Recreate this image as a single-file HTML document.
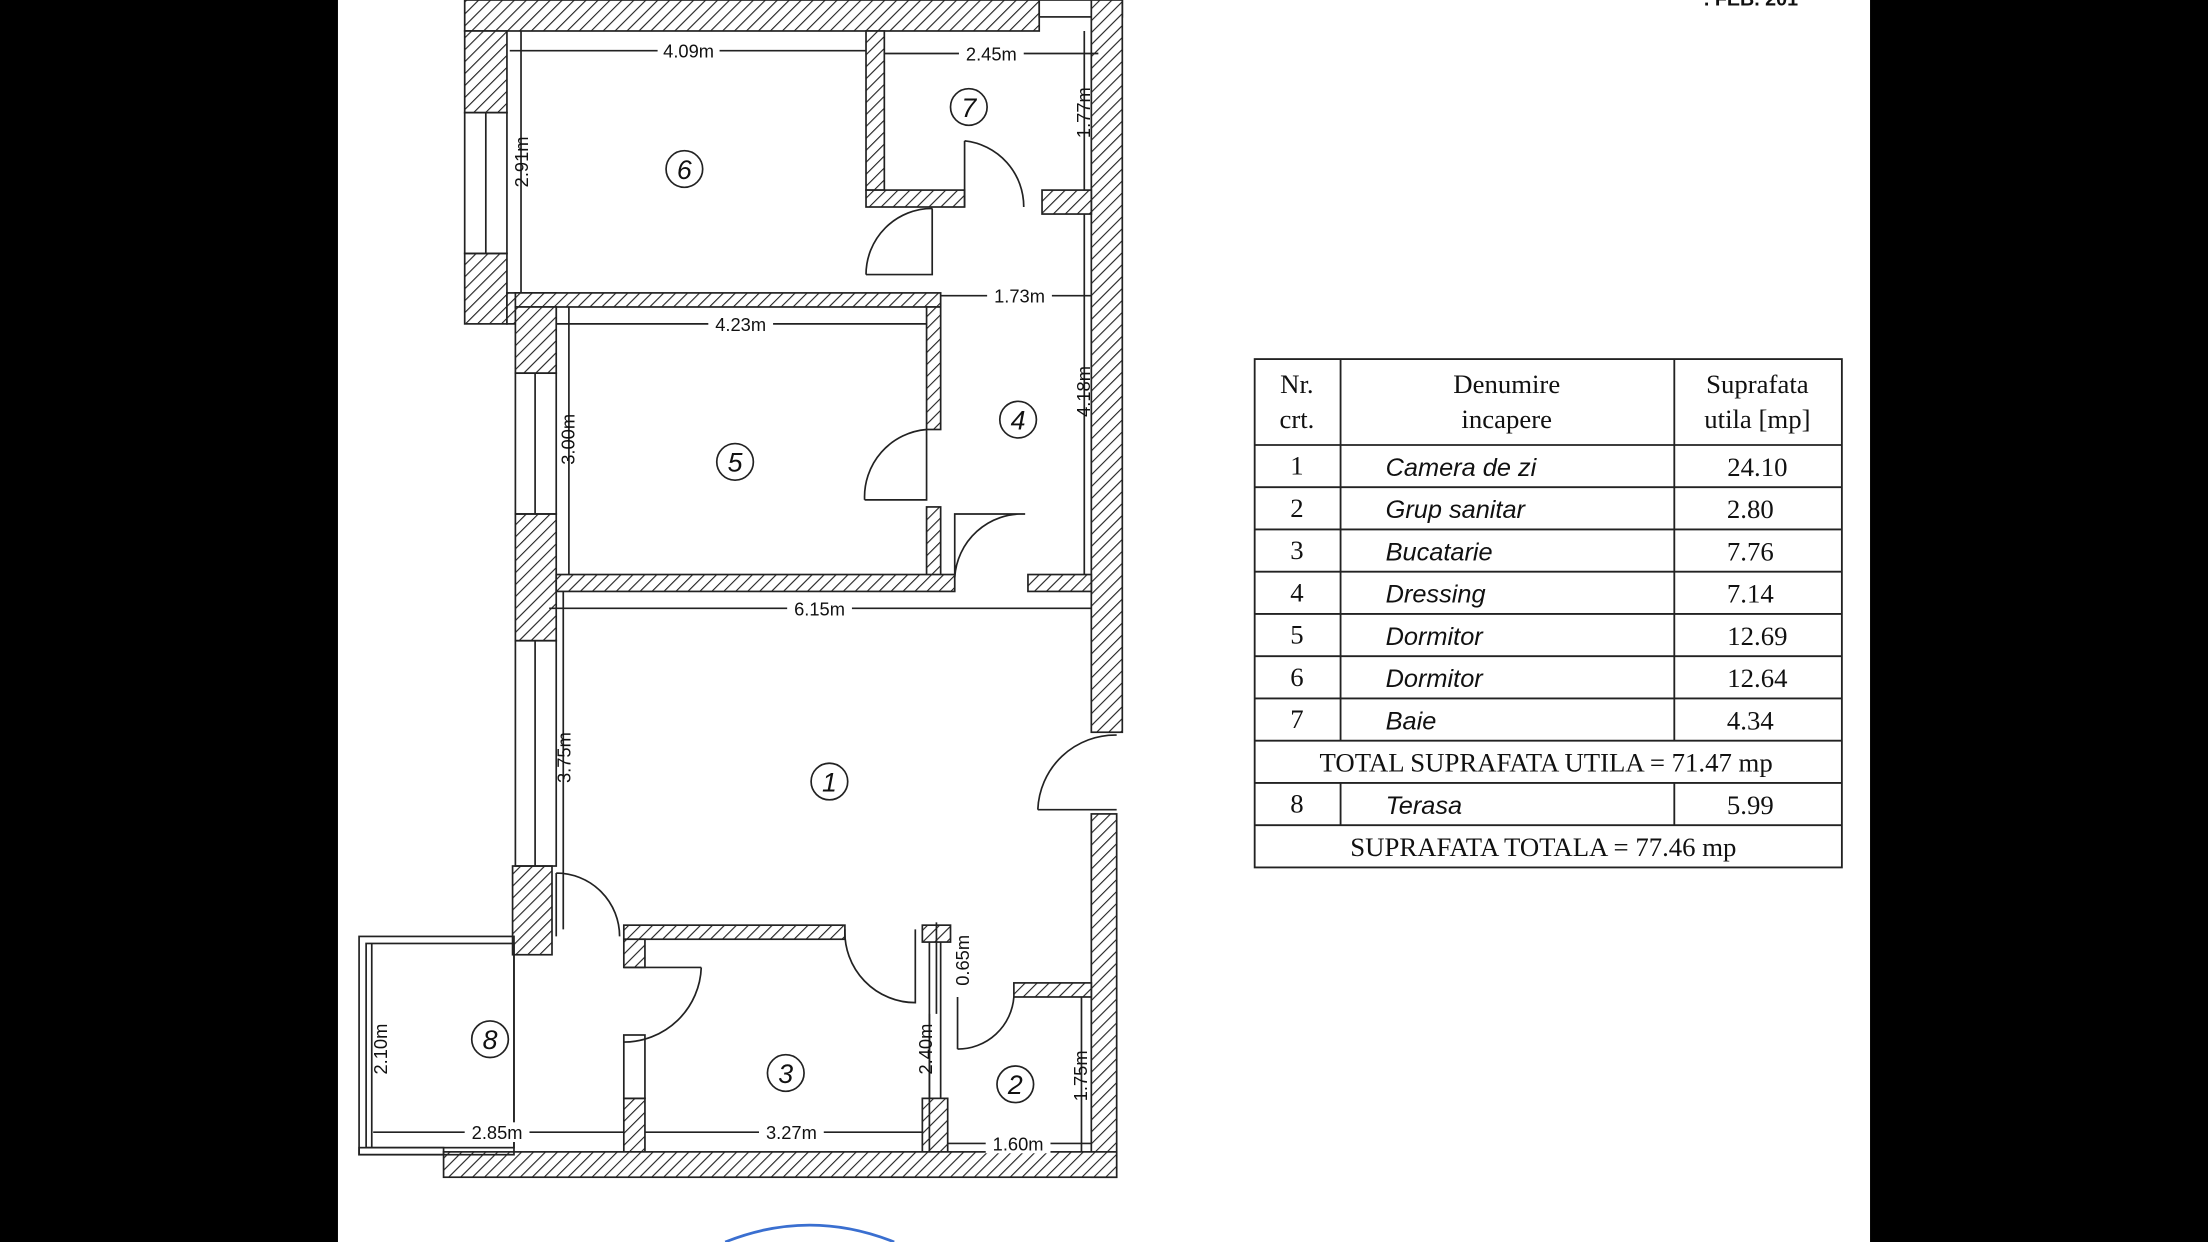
<!DOCTYPE html>
<html><head><meta charset="utf-8"><style>
html,body{margin:0;padding:0;background:#000;}
svg{display:block;}
</style></head><body>
<svg width="2208" height="1242" viewBox="0 0 1568 882" xmlns="http://www.w3.org/2000/svg">
<defs>
<pattern id="h" width="6" height="6" patternUnits="userSpaceOnUse" patternTransform="rotate(45)">
<rect width="6" height="6" fill="#fff"/><line x1="0" y1="0" x2="0" y2="6" stroke="#222" stroke-width="1.6"/>
</pattern>
</defs>
<rect x="0" y="0" width="1568" height="882" fill="#000"/>
<rect x="240" y="0" width="1088" height="882" fill="#fff"/>
<text x="1210" y="4" font-family="Liberation Sans, sans-serif" font-size="14" font-weight="bold" fill="#111">. FEB. 201</text>
<g stroke="#222" stroke-width="1.2" fill="url(#h)">
<rect x="330" y="0" width="408" height="22"/>
<rect x="738" y="0" width="59" height="12" fill="#fff"/>
<rect x="775" y="0" width="22" height="520"/>
<rect x="775" y="578" width="18" height="258"/>
<rect x="330" y="22" width="30" height="58"/>
<rect x="330" y="180" width="30" height="50"/>
<rect x="360" y="208" width="35" height="22"/>
<rect x="615" y="22" width="13" height="113"/>
<rect x="615" y="135" width="70" height="12"/>
<rect x="740" y="135" width="35" height="17"/>
<rect x="366" y="208" width="302" height="10"/>
<rect x="366" y="218" width="29" height="47"/>
<rect x="366" y="365" width="29" height="90"/>
<rect x="658" y="218" width="10" height="87"/>
<rect x="658" y="360" width="10" height="50"/>
<rect x="395" y="408" width="283" height="12"/>
<rect x="730" y="408" width="45" height="12"/>
<rect x="364" y="615" width="28" height="63"/>
<rect x="443" y="657" width="157" height="10"/>
<rect x="443" y="667" width="15" height="20"/>
<rect x="443" y="780" width="15" height="38"/>
<rect x="655" y="657" width="20" height="12"/>
<rect x="655" y="780" width="18" height="38"/>
<rect x="720" y="698" width="55" height="10"/>
<rect x="315" y="818" width="478" height="18"/>
</g>
<g stroke="#222" stroke-width="1.2" fill="none">
<rect x="330" y="80" width="30" height="100"/><line x1="345" y1="80" x2="345" y2="180"/>
<rect x="366" y="265" width="29" height="100"/><line x1="380" y1="265" x2="380" y2="365"/>
<rect x="366" y="455" width="29" height="160"/><line x1="380" y1="455" x2="380" y2="615"/>
<rect x="443" y="735" width="15" height="45"/>
<rect x="255" y="665" width="110" height="155"/>
<rect x="260" y="670" width="105" height="145"/>
<rect x="255" y="815" width="60" height="5"/>
<line x1="660" y1="669" x2="660" y2="780"/><line x1="668" y1="669" x2="668" y2="780"/>
<path d="M685 100 L685 147 M685 100 A47 47 0 0 1 727 147"/>
<path d="M615 195 L662 195 L662 148 M615 195 A47 47 0 0 1 662 148"/>
<path d="M614 355 L658 355 L658 305 M614 355 A48 48 0 0 1 658 305"/>
<path d="M678 410 L678 365 L728 365 M678 410 A48 48 0 0 1 728 365"/>
<path d="M737 575 L793 575 M737 575 A55 55 0 0 1 793 522"/>
<path d="M395 620 A45 45 0 0 1 440 665 M395 620 L395 665"/>
<path d="M443 687 L498 687 M498 687 A55 55 0 0 1 443 740"/>
<path d="M600 660 A50 50 0 0 0 650 712 L650 660"/>
<path d="M680 708 L680 745 M680 745 A40 40 0 0 0 720 708"/>
<line x1="362" y1="36" x2="615" y2="36"/><line x1="628" y1="38" x2="780" y2="38"/>
<line x1="770" y1="22" x2="770" y2="135"/><line x1="370" y1="22" x2="370" y2="208"/>
<line x1="668" y1="210" x2="775" y2="210"/><line x1="395" y1="230" x2="658" y2="230"/>
<line x1="770" y1="152" x2="770" y2="408"/><line x1="404" y1="218" x2="404" y2="408"/>
<line x1="390" y1="432" x2="775" y2="432"/><line x1="400" y1="420" x2="400" y2="660"/>
<line x1="665" y1="655" x2="665" y2="720"/><line x1="264" y1="670" x2="264" y2="815"/>
<line x1="265" y1="804" x2="443" y2="804"/><line x1="458" y1="804" x2="655" y2="804"/>
<line x1="660" y1="720" x2="660" y2="818"/><line x1="768" y1="708" x2="768" y2="818"/>
<line x1="673" y1="812" x2="775" y2="812"/>
</g>
<g font-family="Liberation Sans, sans-serif" font-size="13" fill="#111" text-anchor="middle">
<rect x="467" y="29" width="44" height="14" fill="#fff"/><text x="489" y="41">4.09m</text>
<rect x="681" y="31" width="46" height="14" fill="#fff"/><text x="704" y="43">2.45m</text>
<rect x="701" y="203" width="46" height="14" fill="#fff"/><text x="724" y="215">1.73m</text>
<rect x="503" y="223" width="46" height="14" fill="#fff"/><text x="526" y="235">4.23m</text>
<rect x="559" y="425" width="46" height="14" fill="#fff"/><text x="582" y="437">6.15m</text>
<rect x="330" y="797" width="46" height="14" fill="#fff"/><text x="353" y="809">2.85m</text>
<rect x="539" y="797" width="46" height="14" fill="#fff"/><text x="562" y="809">3.27m</text>
<rect x="700" y="805" width="46" height="14" fill="#fff"/><text x="723" y="817">1.60m</text>
<text transform="translate(774,80) rotate(-90)">1.77m</text>
<text transform="translate(375,115) rotate(-90)">2.91m</text>
<text transform="translate(774,278) rotate(-90)">4.18m</text>
<text transform="translate(408,312) rotate(-90)">3.00m</text>
<text transform="translate(405,538) rotate(-90)">3.75m</text>
<text transform="translate(688,682) rotate(-90)">0.65m</text>
<text transform="translate(275,745) rotate(-90)">2.10m</text>
<text transform="translate(662,745) rotate(-90)">2.40m</text>
<text transform="translate(772,764) rotate(-90)">1.75m</text>
</g>
<g font-family="Liberation Sans, sans-serif" font-size="19" font-style="italic" fill="#111" text-anchor="middle">
<g fill="none" stroke="#222" stroke-width="1.2">
<circle cx="486" cy="120" r="13"/><circle cx="688" cy="76" r="13"/><circle cx="522" cy="328" r="13"/>
<circle cx="723" cy="298" r="13"/><circle cx="589" cy="555" r="13"/><circle cx="348" cy="738" r="13"/>
<circle cx="558" cy="762" r="13"/><circle cx="721" cy="770" r="13"/>
</g>
<text x="486" y="127">6</text><text x="688" y="83">7</text><text x="522" y="335">5</text><text x="723" y="305">4</text>
<text x="589" y="562">1</text><text x="348" y="745">8</text><text x="558" y="769">3</text><text x="721" y="777">2</text>
</g>
<g stroke="#222" stroke-width="1.3" fill="none">
<rect x="891" y="255" width="417" height="361"/>
<line x1="891" y1="316" x2="1308" y2="316"/><line x1="891" y1="346" x2="1308" y2="346"/>
<line x1="891" y1="376" x2="1308" y2="376"/><line x1="891" y1="406" x2="1308" y2="406"/>
<line x1="891" y1="436" x2="1308" y2="436"/><line x1="891" y1="466" x2="1308" y2="466"/>
<line x1="891" y1="496" x2="1308" y2="496"/><line x1="891" y1="526" x2="1308" y2="526"/>
<line x1="891" y1="556" x2="1308" y2="556"/><line x1="891" y1="586" x2="1308" y2="586"/>
<line x1="952" y1="255" x2="952" y2="526"/><line x1="1189" y1="255" x2="1189" y2="526"/>
<line x1="952" y1="556" x2="952" y2="586"/><line x1="1189" y1="556" x2="1189" y2="586"/>
</g>
<g font-family="Liberation Serif, serif" font-size="19" fill="#111" text-anchor="middle">
<text x="921" y="279">Nr.</text><text x="921" y="304">crt.</text>
<text x="1070" y="279">Denumire</text><text x="1070" y="304">incapere</text>
<text x="1248" y="279">Suprafata</text><text x="1248" y="304">utila [mp]</text>
<text x="921" y="337">1</text><text x="921" y="367">2</text><text x="921" y="397">3</text><text x="921" y="427">4</text>
<text x="921" y="457">5</text><text x="921" y="487">6</text><text x="921" y="517">7</text><text x="921" y="577">8</text>
<text x="1248" y="338">24.10</text><text x="1243" y="368">2.80</text><text x="1243" y="398">7.76</text><text x="1243" y="428">7.14</text>
<text x="1248" y="458">12.69</text><text x="1248" y="488">12.64</text><text x="1243" y="518">4.34</text><text x="1243" y="578">5.99</text>
<text x="1098" y="548">TOTAL SUPRAFATA UTILA = 71.47 mp</text>
<text x="1096" y="608">SUPRAFATA TOTALA = 77.46 mp</text>
</g>
<g font-family="Liberation Sans, sans-serif" font-size="18" font-style="italic" fill="#111">
<text x="984" y="338">Camera de zi</text><text x="984" y="368">Grup sanitar</text><text x="984" y="398">Bucatarie</text>
<text x="984" y="428">Dressing</text><text x="984" y="458">Dormitor</text><text x="984" y="488">Dormitor</text>
<text x="984" y="518">Baie</text><text x="984" y="578">Terasa</text>
</g>
<path d="M515 882 Q575 858 635 882" fill="none" stroke="#3a6fd0" stroke-width="2"/>
</svg>
</body></html>
